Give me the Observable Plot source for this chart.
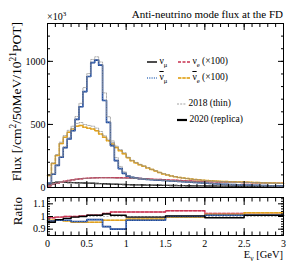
<!DOCTYPE html>
<html><head><meta charset="utf-8">
<script src="https://cdn.jsdelivr.net/npm/d3@7"></script>
<script src="https://cdn.jsdelivr.net/npm/@observablehq/plot@0.6"></script>
<style>
body{margin:0;background:#fff;}
#c{position:relative;width:293px;height:266px;font-family:"Liberation Serif","DejaVu Serif",serif;color:#000;overflow:hidden;}
#c > svg{position:absolute;left:0;}
.lab{position:absolute;white-space:nowrap;line-height:1;}
.ov{text-decoration:overline;}
sub,sup{font-size:70%;line-height:0;}
</style></head><body><div id="c"></div>
<script>
// ---------- data ----------
const binWidth = 0.05; // GeV, flux histogram binning (0 - 3 GeV)
const numu2020    = [20,38,42,42,41,40,39,38,37,36,35,34,32,31,30,28,27,26,25,24,23,22,21,21,20,19,19,18,18,17,17,16,16,15,15,14,14,13,13,13,12,12,12,11,11,11,10,10,10,10,9,9,9,9,8,8,8,8,7,7];
const numu2018    = [21,39,43,43,41,40,39,38,37,36,35,34,32,31,29,27,27,26,25,24,23,22,21,21,20,19,19,18,18,17,17,16,16,15,15,14,14,13,13,13,12,12,12,11,11,11,10,10,10,10,9,9,9,9,8,8,8,8,7,7];
const numuBar2020 = [35,105,175,240,315,385,450,540,640,760,880,990,1010,970,690,516,332,213,150,112,90,80,74,70,67,64,62,60,58,56,54,52,50,48,46,44,42,40,38,36,34,32,30,28,26,25,24,23,22,21,20,19,18,17,16,15,14,14,13,13];
const numuBar2018 = [36,109,180,247,325,397,469,563,667,792,903,1015,1036,995,750,561,369,237,167,124,93,82,76,72,69,66,64,62,60,58,54,52,50,48,46,44,42,40,38,36,34,32,30,28,26,25,24,23,22,21,20,19,18,17,16,15,14,14,13,13];
const nue2020     = [12,25,33,42,50,56,61,65,69,72,74,76,77,78,78,78,78,77,77,76,75,74,73,71,70,68,66,64,63,61,60,58,57,55,54,52,51,50,49,48,47,46,45,44,44,43,42,42,41,40,40,39,38,38,37,36,36,35,35,34];
const nue2018     = [12,25,33,42,50,56,61,65,69,72,73,75,76,77,76,76,75,74,74,73,72,71,71,69,68,66,64,62,61,59,57,56,55,53,52,50,49,48,47,46,46,45,44,43,43,42,41,41,40,39,39,38,37,37,36,35,35,34,34,33];
const nueBar2020  = [95,190,253,348,398,437,464,485,492,477,470,464,450,424,398,371,345,318,292,268,235,212,195,180,168,155,142,130,118,108,100,92,86,80,75,71,67,64,61,58,56,54,52,50,48,47,46,45,44,43,42,41,40,39,38,37,36,35,34,33];
const nueBar2018  = [98,196,261,359,412,453,486,508,515,499,492,486,471,444,410,382,356,328,301,276,240,216,199,184,171,158,145,133,120,110,101,92,86,80,75,71,67,64,61,58,55,53,51,49,47,46,45,44,43,42,41,40,39,38,37,36,35,34,33,32];

const ratioEdges   = [0,0.1,0.2,0.3,0.4,0.5,0.6,0.7,0.8,1.0,1.5,2.0,2.5,3.0];
const ratioNumu    = [0.955,0.975,0.985,0.995,1.0,1.01,1.01,1.02,1.01,0.995,1.005,0.99,1.01];
const ratioNumuBar = [0.965,0.97,0.97,0.96,0.96,0.975,0.975,0.92,0.9,0.97,1.0,1.01,1.01];
const ratioNue     = [0.99,0.995,1.0,1.0,1.005,1.01,1.01,1.025,1.035,1.035,1.045,1.025,1.03];
const ratioNueBar  = [0.97,0.97,0.965,0.955,0.955,0.955,0.955,0.97,0.97,0.98,0.995,1.015,1.03];

const xMajor = [0,0.5,1,1.5,2,2.5,3];
const xLabels = ["0","0.5","1","1.5","2","2.5","3"];
const yMajorMain = [0,500,1000];
const yLabelsMain = ["0","500","1000"];
const yMajorRatio = [0.9,1.0,1.1];
const yLabelsRatio = ["0.9","1","1.1"];

// ---------- helpers ----------
function hist(vals){
  const pts = vals.map((v,i)=>({x:i*binWidth, y:v}));
  pts.push({x:vals.length*binWidth, y:vals[vals.length-1]});
  return pts;
}
function histEdges(edges, vals){
  const pts = vals.map((v,i)=>({x:edges[i], y:v}));
  pts.push({x:edges[edges.length-1], y:vals[vals.length-1]});
  return pts;
}
const rng = (a,b,s)=>d3.range(Math.round((b-a)/s)+1).map(i=>+(a+i*s).toFixed(4));
const xMinor = rng(0,3,0.1);

const C = {
  black:"#000000",
  blueDark:"#173a8a", blueLight:"#7fb0e6",
  red:"#c8304f", redLight:"#eaa3b3",
  orange:"#e0a020", orangeLight:"#f5da8a",
  grey:"#8c8c8c"
};

function series(h, kind){
  const o = {x:"x", y:"y", curve:"step-after"};
  if(kind==="black") return [Plot.line(h,{...o, stroke:C.black, strokeWidth:1.4})];
  if(kind==="blue") return [Plot.line(h,{...o, stroke:C.blueDark, strokeWidth:1.6}),
                            Plot.line(h,{...o, stroke:C.blueLight, strokeWidth:0.6, strokeDasharray:"0.8,1.6"})];
  if(kind==="red") return [Plot.line(h,{...o, stroke:C.redLight, strokeWidth:1.4}),
                           Plot.line(h,{...o, stroke:C.red, strokeWidth:1.4, strokeDasharray:"3,1.5"})];
  if(kind==="orange") return [Plot.line(h,{...o, stroke:C.orangeLight, strokeWidth:1.5}),
                              Plot.line(h,{...o, stroke:C.orange, strokeWidth:1.5, strokeDasharray:"3,1.5"})];
  if(kind==="grey") return [Plot.line(h,{...o, stroke:C.grey, strokeWidth:0.7, strokeDasharray:"2,1.2"})];
}
const blank = ()=>"";
function frameTicks(yMajor, yMinor, xLen, yLen){
  return [
    Plot.axisX({anchor:"bottom", ticks:xMinor, tickSize:-xLen[1], tickFormat:blank, label:null}),
    Plot.axisX({anchor:"bottom", ticks:xMajor, tickSize:-xLen[0], tickFormat:blank, label:null}),
    Plot.axisX({anchor:"top", ticks:xMinor, tickSize:-xLen[1], tickFormat:blank, label:null}),
    Plot.axisX({anchor:"top", ticks:xMajor, tickSize:-xLen[0], tickFormat:blank, label:null}),
    Plot.axisY({anchor:"left", ticks:yMinor, tickSize:-yLen[1], tickFormat:blank, label:null}),
    Plot.axisY({anchor:"left", ticks:yMajor, tickSize:-yLen[0], tickFormat:blank, label:null}),
    Plot.axisY({anchor:"right", ticks:yMinor, tickSize:-yLen[1], tickFormat:blank, label:null}),
    Plot.axisY({anchor:"right", ticks:yMajor, tickSize:-yLen[0], tickFormat:blank, label:null}),
  ];
}

// ---------- main panel ----------
const main = Plot.plot({
  width:293, height:195, marginTop:23, marginBottom:8, marginLeft:47, marginRight:10,
  x:{domain:[0,3], axis:null},
  y:{domain:[0,1300], axis:null},
  style:{fontFamily:"Liberation Serif", fontSize:"10px", background:"transparent", overflow:"visible"},
  marks:[
    ...series(hist(numu2020),"black"),
    ...series(hist(nue2020),"red"),
    ...series(hist(nueBar2020),"orange"),
    ...series(hist(numuBar2020),"blue"),
    ...series(hist(numu2018),"grey"),
    ...series(hist(nue2018),"grey"),
    ...series(hist(nueBar2018),"grey"),
    ...series(hist(numuBar2018),"grey"),
    Plot.frame({stroke:"black", strokeWidth:1}),
    ...frameTicks(yMajorMain, rng(0,1300,100), [6,3], [6,3]),
    Plot.axisY({anchor:"left", ticks:yMajorMain, tickFormat:(d,i)=>yLabelsMain[i], tickSize:0, tickPadding:2, label:null, fontSize:10})
  ]
});
main.style.top = "0px";

// ---------- ratio panel ----------
const ratio = Plot.plot({
  width:293, height:71, marginTop:2, marginBottom:31, marginLeft:47, marginRight:10,
  x:{domain:[0,3], axis:null},
  y:{domain:[0.85,1.15], axis:null},
  style:{fontFamily:"Liberation Serif", fontSize:"10px", background:"transparent", overflow:"visible"},
  marks:[
    Plot.ruleY([1.0],{stroke:"#999", strokeWidth:0.7, strokeDasharray:"2,1.5"}),
    ...series(histEdges(ratioEdges, ratioNue),"red"),
    ...series(histEdges(ratioEdges, ratioNueBar),"orange"),
    ...series(histEdges(ratioEdges, ratioNumuBar),"blue"),
    ...series(histEdges(ratioEdges, ratioNumu),"black"),
    Plot.frame({stroke:"black", strokeWidth:1}),
    ...frameTicks(yMajorRatio, rng(0.86,1.14,0.02), [7,3.5], [6,3]),
    Plot.axisY({anchor:"left", ticks:yMajorRatio, tickFormat:(d,i)=>yLabelsRatio[i], tickSize:0, tickPadding:2, label:null, fontSize:10}),
    Plot.axisX({anchor:"bottom", ticks:xMajor, tickFormat:(d,i)=>xLabels[i], tickSize:0, tickPadding:4, label:null, fontSize:10})
  ]
});
ratio.style.top = "195px";

const c = document.getElementById("c");
c.appendChild(main);
c.appendChild(ratio);

// ---------- text labels & legend ----------
function lab(html, css){
  const d = document.createElement("div");
  d.className = "lab"; d.innerHTML = html;
  Object.assign(d.style, css);
  c.appendChild(d);
  return d;
}
lab("Anti-neutrino mode flux at the FD", {right:"10px", top:"9px", fontSize:"11px"});
lab("×10<sup>3</sup>", {left:"47px", top:"12px", fontSize:"10px"});
lab("E<sub>ν</sub> [GeV]", {right:"10px", top:"250px", fontSize:"10.5px"});
lab("Flux [/cm<sup>2</sup>/50MeV/10<sup>21</sup>POT]", {left:"0px", top:"0px", fontSize:"13.5px", transformOrigin:"0 0", transform:"translate(17px,22px) rotate(-90deg) translate(-100%,-50%)"});
lab("Ratio", {left:"0px", top:"0px", fontSize:"13px", transformOrigin:"0 0", transform:"translate(17px,197px) rotate(-90deg) translate(-100%,-50%)"});

function swatch(kind, w){
  const s = d3.create("svg").attr("width", w).attr("height", 6).style("vertical-align","middle");
  const add = (stroke, sw, dash)=>s.append("line").attr("x1",0).attr("x2",w).attr("y1",3).attr("y2",3)
      .attr("stroke",stroke).attr("stroke-width",sw).attr("stroke-dasharray",dash||null);
  if(kind==="black") add(C.black,1.4);
  if(kind==="thick") add(C.black,2.2);
  if(kind==="blue"){ add(C.blueLight,1.6,"1,1.3"); add(C.blueDark,0.6,"1,1.3"); }
  if(kind==="red"){ add(C.red,1.4,"3,1.5"); }
  if(kind==="orange"){ add(C.orangeLight,1.5); add(C.orange,1.5,"3,1.5"); }
  if(kind==="grey") add(C.grey,0.8,"2,1.2");
  return s.node().outerHTML;
}
const lf = {fontSize:"9.5px"};
lab(swatch("black",10)+" ν<sub>μ</sub>", {...lf, left:"147px", top:"57px"});
lab(swatch("red",12)+" ν<sub>e</sub> (×100)", {...lf, left:"178px", top:"57px"});
lab(swatch("blue",10)+" <span class='ov'>ν</span><sub>μ</sub>", {...lf, left:"147px", top:"73px"});
lab(swatch("orange",12)+" <span class='ov'>ν</span><sub>e</sub> (×100)", {...lf, left:"178px", top:"73px"});
lab(swatch("grey",9)+" 2018 (thin)", {...lf, left:"177px", top:"99px"});
lab(swatch("thick",10)+" 2020 (replica)", {...lf, left:"177px", top:"115px"});
</script>
</body></html>
